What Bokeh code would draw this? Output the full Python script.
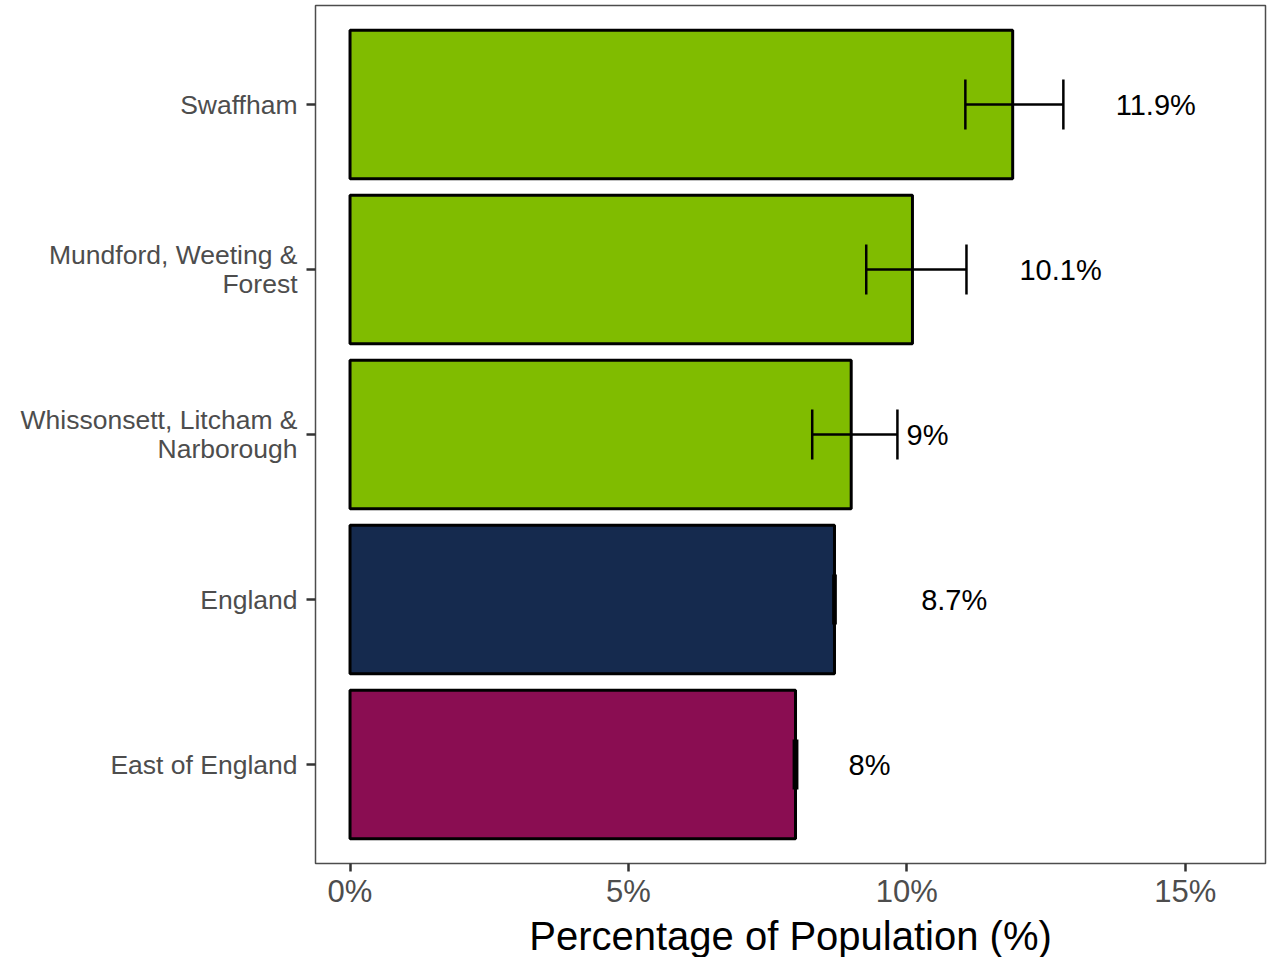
from bokeh.plotting import figure
from bokeh.models import FactorRange, Range1d, FixedTicker, ColumnDataSource, Whisker, TeeHead, Title
from bokeh.core.properties import value
from bokeh.embed import file_html
from bokeh.resources import INLINE

# Data (top to bottom as shown)
areas = ["Swaffham", "Mundford, Weeting &\nForest", "Whissonsett, Litcham &\nNarborough",
         "England", "East of England"]
values = [11.9, 10.1, 9.0, 8.7, 8.0]
lower_ci = [11.05, 9.27, 8.30, 8.68, 7.97]
upper_ci = [12.81, 11.07, 9.83, 8.72, 8.03]
value_labels = ["11.9%", "10.1%", "9%", "8.7%", "8%"]
label_x = [14.47, 12.76, 10.37, 10.85, 9.33]
bar_colors = ["#80BC00", "#80BC00", "#80BC00", "#152A4E", "#8A0D52"]
x_ticks = [0, 5, 10, 15]
x_tick_labels = ["0%", "5%", "10%", "15%"]
x_title = "Percentage of Population (%)"

FONT = "Liberation Sans"
X_START, X_END = -0.62, 16.44

src = ColumnDataSource(dict(area=areas, value=values, lower=lower_ci, upper=upper_ci,
                            label=value_labels, lx=label_x, color=bar_colors))

p = figure(width=1267, height=957, output_backend="svg", toolbar_location=None,
           y_range=FactorRange(factors=list(reversed(areas)), range_padding=0.1,
                               range_padding_units="absolute"),
           x_range=Range1d(X_START, X_END),
           min_border_left=315, min_border_right=2, min_border_top=5, min_border_bottom=10)

p.hbar(y="area", left=0, right="value", height=0.9, fill_color="color",
       line_color="black", line_width=3, source=src)

w = Whisker(source=src, base="area", lower="lower", upper="upper", dimension="width",
            line_color="black", line_width=2.5, level="overlay",
            upper_head=TeeHead(size=50, line_color="black", line_width=2.5),
            lower_head=TeeHead(size=50, line_color="black", line_width=2.5))
p.add_layout(w)

p.text(x="lx", y="area", text="label", source=src, text_align="center",
       text_baseline="middle", text_font=value(FONT), text_font_size="29px",
       text_color="black")

p.grid.visible = False
p.outline_line_color = "#4D4D4D"
p.outline_line_width = 1.5
p.background_fill_color = "white"
p.border_fill_color = "white"

# x axis
xa = p.xaxis[0]
xa.ticker = FixedTicker(ticks=x_ticks)
xa.major_label_overrides = {t: l for t, l in zip(x_ticks, x_tick_labels)}
xa.axis_line_color = None
xa.major_tick_line_color = "#333333"
xa.major_tick_line_width = 2.5
xa.major_tick_out = 8
xa.major_tick_in = 0
xa.minor_tick_line_color = None
xa.major_label_text_font = FONT
xa.major_label_text_font_size = "31px"
xa.major_label_text_color = "#4D4D4D"
xa.major_label_standoff = 2

# x axis title as a title panel below the axis, centred on the frame
p.add_layout(Title(text=x_title, align="center", text_font=FONT, text_font_size="40px",
                   text_font_style="normal", text_color="black", standoff=0, offset=0),
             "below")

# y axis
ya = p.yaxis[0]
ya.axis_line_color = None
ya.major_tick_line_color = "#333333"
ya.major_tick_line_width = 2.5
ya.major_tick_out = 9
ya.major_tick_in = 0
ya.minor_tick_line_color = None
ya.major_label_text_font = FONT
ya.major_label_text_font_size = "26.5px"
ya.major_label_text_line_height = 0.95
ya.major_label_text_color = "#4D4D4D"
ya.major_label_standoff = 9

open("out.html", "w").write(file_html(p, INLINE))
